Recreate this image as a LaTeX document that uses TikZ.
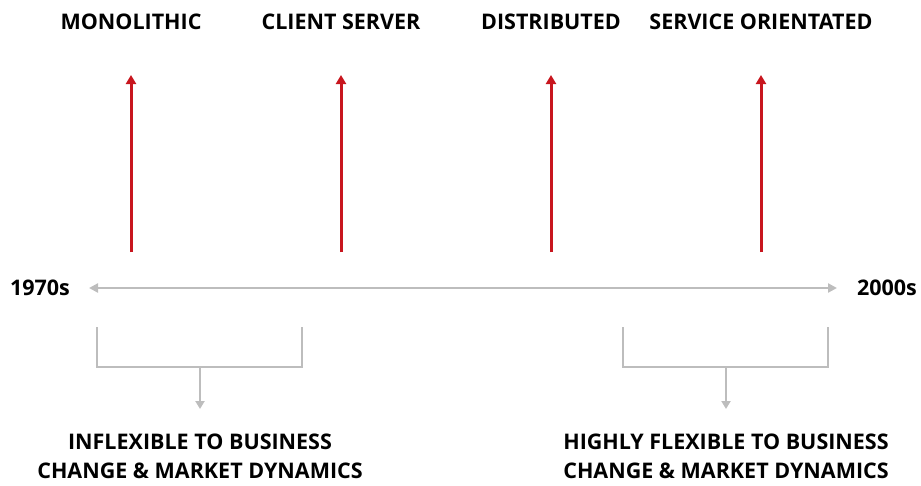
\documentclass[tikz,border=0pt]{standalone}
\usepackage{fontspec}
\setmainfont{Open Sans}
\usetikzlibrary{arrows.meta}
\definecolor{rarrow}{HTML}{C8161E}
\definecolor{gline}{HTML}{BDBDBD}
\begin{document}
\begin{tikzpicture}[x=1pt,y=-1pt,
  lbl/.style={font=\fontsize{21.5}{29}\selectfont\bfseries, text=black, inner sep=0pt},
  redarrow/.style={draw=rarrow, line width=3pt, -{Triangle[length=9pt,width=10pt]}},
  grayline/.style={draw=gline, line width=2.5pt},
  grayarrow/.style={draw=gline, line width=2.5pt, -{Triangle[length=8pt,width=9pt]}},
  timeline/.style={draw=gline, line width=2.5pt, {Triangle[length=9pt,width=9pt]}-{Triangle[length=9pt,width=9pt]}}]
\useasboundingbox (0,0) rectangle (921,485);
% top labels
\node[lbl] (mono) at (131,22) {MONOLITHIC};
\node[lbl] (cs) at (341,22) {CLIENT SERVER};
\node[lbl] (dist) at (551,22) {DISTRIBUTED};
\node[lbl] (soa) at (761,22) {SERVICE ORIENTATED};
% red arrows
\foreach \n/\x in {a/131,b/341,c/551,d/761}{
  \coordinate (base\n) at (\x,252);
  \coordinate (tip\n) at (\x,75);
  \draw[redarrow] (base\n) -- (tip\n);
}
% timeline
\node[lbl] (y70) at (40,288) {1970s};
\node[lbl] (y00) at (887,288) {2000s};
\coordinate (tl) at (89,288);
\coordinate (tr) at (837,288);
\draw[timeline] (tl) -- (tr);
% left bracket
\coordinate (l1) at (97,327);
\coordinate (l2) at (97,367);
\coordinate (l3) at (302,367);
\coordinate (l4) at (302,327);
\coordinate (lm) at (200,367);
\draw[grayline] (l1) -- (l2) -- (l3) -- (l4);
\node[lbl, align=center] (ltext) at (200,456.5) {INFLEXIBLE TO BUSINESS\\CHANGE \& MARKET DYNAMICS};
\coordinate (la) at (200,409);
\draw[grayarrow] (lm) -- (la);
% right bracket
\coordinate (r1) at (623,327);
\coordinate (r2) at (623,367);
\coordinate (r3) at (828,367);
\coordinate (r4) at (828,327);
\coordinate (rm) at (726,367);
\draw[grayline] (r1) -- (r2) -- (r3) -- (r4);
\node[lbl, align=center] (rtext) at (726,456.5) {HIGHLY FLEXIBLE TO BUSINESS\\CHANGE \& MARKET DYNAMICS};
\coordinate (ra) at (726,409);
\draw[grayarrow] (rm) -- (ra);
\end{tikzpicture}
\end{document}
